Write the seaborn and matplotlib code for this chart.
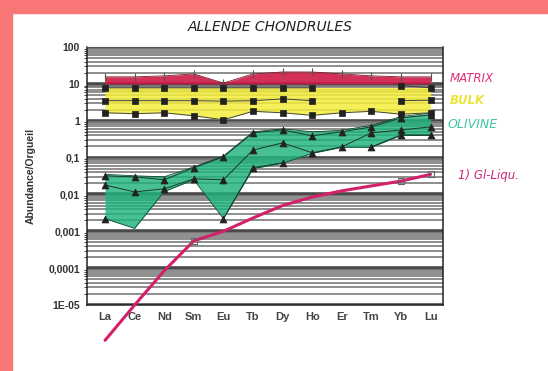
import numpy as np
import pandas as pd
import seaborn as sns
import matplotlib.pyplot as plt
from matplotlib.patches import Rectangle
from matplotlib.ticker import LogLocator, NullFormatter

sns.set_style("white")
plt.rcParams['font.family'] = ['Liberation Sans', 'DejaVu Sans']

nan = np.nan
# REE pattern data
elements = ['La', 'Ce', 'Nd', 'Sm', 'Eu', 'Tb', 'Dy', 'Ho', 'Er', 'Tm', 'Yb', 'Lu']
matrix_top = [15.5, 15.5, 16.5, 18.6, 10.5, 18.6, 21.0, 21.0, 18.6, 16.5, 15.5, 15.5]
matrix_bottom = [10.0] * 12
bulk_top = [8.0] * 12
bulk_hi = [7.8, 7.8, 7.8, 7.8, 7.8, 7.8, 7.8, 7.8, nan, nan, 9.0, 7.8]
bulk_mid = [3.5, 3.5, 3.5, 3.5, 3.4, 3.5, 3.9, 3.5, nan, nan, 3.5, 3.6]
bulk_lo = [1.64, 1.55, 1.64, 1.36, 1.06, 1.8, 1.64, 1.4, 1.64, 1.8, 1.5, 1.64]
ol_top = [0.035, 0.032, 0.030, 0.056, 0.11, 0.50, 0.60, 0.50, 0.55, 0.75, 1.3, 1.6]
ol_bottom = [0.0022, 0.0012, 0.012, 0.025, 0.0022, 0.050, 0.070, 0.13, 0.19, 0.19, 0.40, 0.40]
ol_a = [0.032, 0.030, 0.025, 0.053, 0.105, 0.47, 0.56, 0.39, 0.50, 0.68, 1.19, 1.44]
ol_b = [0.018, 0.0117, 0.0142, 0.0265, 0.025, 0.16, 0.25, 0.135, 0.195, 0.47, 0.56, 0.68]
ol_c = [0.0022, nan, nan, nan, 0.0022, 0.053, 0.072, nan, nan, 0.195, 0.41, 0.41]
liquid = [1.1e-6, 1.0e-5, 8.5e-5, 5.5e-4, 1.0e-3, 2.3e-3, 5.0e-3, 8.5e-3, 1.25e-2, 1.7e-2, 2.3e-2, 3.5e-2]
liquid_marks = ['Sm', 'Yb', 'Lu']

ytick_vals = [1e-5, 1e-4, 1e-3, 1e-2, 1e-1, 1, 10, 100]
ytick_labels = ['1E-05', '0,0001', '0,001', '0,01', '0,1', '1', '10', '100']

x = np.arange(len(elements))

fig = plt.figure(figsize=(5.48, 3.71), dpi=100)
fig.patches.append(Rectangle((0, 0), 12 / 548, 1, transform=fig.transFigure,
                             color='#F87676', zorder=0))
fig.patches.append(Rectangle((0, 1 - 13 / 371), 1, 13 / 371, transform=fig.transFigure,
                             color='#F87676', zorder=0))
ax = fig.add_axes([87 / 548, 1 - 305 / 371, (443 - 87) / 548, (305 - 47) / 371])
ax.set_yscale('log')

# bands
ax.fill_between(x, matrix_bottom, matrix_top, color='#CF1A45', alpha=0.9, lw=0, zorder=2)
ax.plot(x, matrix_top, color='#7a1a2a', lw=0.6, marker='|', ms=6, mew=0.8, mec='#555', zorder=3)
ax.fill_between(x, bulk_lo, bulk_top, color='#F4EE3C', alpha=0.85, lw=0, zorder=2)
ax.fill_between(x, ol_bottom, ol_top, color='#1FB47C', alpha=0.82, lw=0, zorder=2)
ax.plot(x, ol_top, color='#0d4a30', lw=0.6, zorder=3)
ax.plot(x, ol_bottom, color='#0d4a30', lw=0.6, zorder=3)

def series(vals, marker, color, ms):
    # line keeps gaps at missing values, markers through seaborn
    ax.plot(x, vals, color=color, lw=0.7, zorder=4)
    df = pd.DataFrame({'x': x, 'y': vals}).dropna()
    sns.scatterplot(data=df, x='x', y='y', ax=ax, marker=marker, s=ms ** 2,
                    color='#222', edgecolor='#222', linewidth=0.5, zorder=5, legend=False)

for s in [bulk_hi, bulk_mid, bulk_lo]:
    series(s, 's', '#444', 4.3)
for s in [ol_a, ol_b, ol_c]:
    series(s, '^', '#1a3a2a', 5)

# hand drawn liquid curve
ax.plot(x, liquid, color='#D2206A', lw=2.2, clip_on=False, zorder=6, solid_capstyle='round')
mi = [elements.index(e) for e in liquid_marks]
ax.plot(mi, [liquid[i] for i in mi], ls='none', marker='s', ms=4, mfc='none',
        mec='#666', mew=0.8, zorder=7)

ax.set_xlim(-0.61, 11.42)
ax.set_ylim(1e-5, 100)
ax.set_xticks(x)
ax.set_xticklabels(elements, fontsize=8, fontweight='bold', color='#444')
ax.set_yticks(ytick_vals)
ax.set_yticklabels(ytick_labels, fontsize=7.5, fontweight='bold', color='#333')
ax.yaxis.set_minor_locator(LogLocator(base=10, subs=np.arange(2, 10), numticks=100))
ax.yaxis.set_minor_formatter(NullFormatter())
ax.tick_params(axis='y', which='major', length=4, width=1, pad=1)
ax.tick_params(axis='y', which='minor', length=2, width=0.6, left=True)
ax.tick_params(axis='x', length=3, width=0.8, pad=2)
ax.set_xlabel('')
ax.set_ylabel('Abundance/Orgueil', fontsize=7.5, fontweight='bold', color='#333')
ax.yaxis.set_label_coords(-0.145, 0.5)

ax.set_axisbelow(True)
ax.grid(which='major', axis='y', color='#4a4a4a', lw=2.6)
ax.grid(which='minor', axis='y', color='#7a7a7a', lw=1.2)
ax.grid(which='major', axis='x', visible=False)
for side in ['left', 'bottom', 'right']:
    ax.spines[side].set_color('#222')
    ax.spines[side].set_linewidth(1.1)
ax.spines['top'].set_color('#555')

# handwritten annotations
hand = dict(family='DejaVu Sans', style='italic', fontweight='light')
fig.text(270 / 548, 1 - 27 / 371, 'ALLENDE CHONDRULES', ha='center', va='center',
         fontsize=10, color='#222', **hand)
fig.text(450 / 548, 1 - 78 / 371, 'MATRIX', fontsize=8.5, color='#E0307A', va='center', **hand)
fig.text(450 / 548, 1 - 100 / 371, 'BULK', fontsize=8.5, color='#EDE43A', va='center',
         fontweight='bold', family='DejaVu Sans', style='italic')
fig.text(448 / 548, 1 - 124 / 371, 'OLIVINE', fontsize=9, color='#3CC7A0', va='center', **hand)
fig.text(458 / 548, 1 - 175 / 371, '1) Gl-Liqu.', fontsize=8.5, color='#C8287A', va='center', **hand)

fig.savefig('out.png', dpi=100)
